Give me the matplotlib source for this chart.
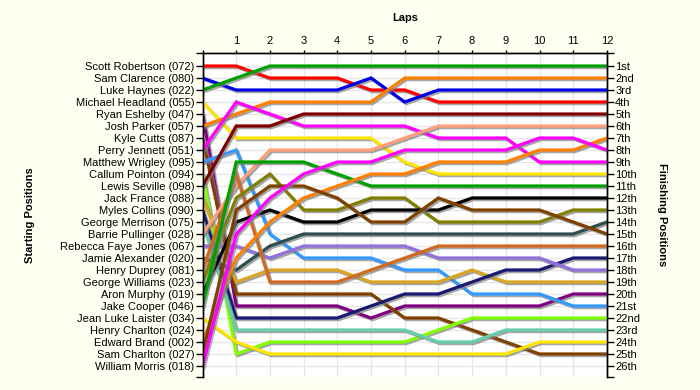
import matplotlib
matplotlib.use("Agg")
import matplotlib.pyplot as plt
import matplotlib.patheffects as pe

plt.rcParams['font.family'] = ['Liberation Sans', 'DejaVu Sans']

laps = list(range(13))
lap_labels = [''] + [str(i) for i in range(1, 13)]

drivers = [
    "Scott Robertson (072)", "Sam Clarence (080)", "Luke Haynes (022)",
    "Michael Headland (055)", "Ryan Eshelby (047)", "Josh Parker (057)",
    "Kyle Cutts (087)", "Perry Jennett (051)", "Matthew Wrigley (095)",
    "Callum Pointon (094)", "Lewis Seville (098)", "Jack France (088)",
    "Myles Collins (090)", "George Merrison (075)", "Barrie Pullinger (028)",
    "Rebecca Faye Jones (067)", "Jamie Alexander (020)", "Henry Duprey (081)",
    "George Williams (023)", "Aron Murphy (019)", "Jake Cooper (046)",
    "Jean Luke Laister (034)", "Henry Charlton (024)", "Edward Brand (002)",
    "Sam Charlton (027)", "William Morris (018)",
]

finish_labels = ["1st", "2nd", "3rd"] + [f"{i}th" for i in range(4, 21)] + \
    ["21st", "22nd", "23rd", "24th", "25th", "26th"]

# position per lap (lap 0 = start), None = no data
positions = {
    "Scott Robertson (072)":   [1, 1, 2, 2, 2, 3, 3, 4, 4, 4, 4, 4, 4],
    "Sam Clarence (080)":      [2, 3, 3, 3, 3, 2, 4, 3, 3, 3, 3, 3, 3],
    "Luke Haynes (022)":       [3, 2, 1, 1, 1, 1, 1, 1, 1, 1, 1, 1, 1],
    "Michael Headland (055)":  [4, 7, 7, 7, 7, 7, 9, 10, 10, 10, 10, 10, 10],
    "Ryan Eshelby (047)":      [5, 21, 21, 21, 21, 22, 21, 21, 21, 21, 21, 20, 20],
    "Josh Parker (057)":       [6, 5, 4, 4, 4, 4, 2, 2, 2, 2, 2, 2, 2],
    "Kyle Cutts (087)":        [7, 20, 20, 20, 20, 20, 22, 22, 23, 24, 25, 25, 25],
    "Perry Jennett (051)":     [8, 4, 5, 6, 6, 6, 6, 7, 7, 7, 9, 9, 9],
    "Matthew Wrigley (095)":   [9, 8, 15, 17, 17, 17, 18, 18, 20, 20, 20, 21, 21],
    "Callum Pointon (094)":    [10, 25, 24, 24, 24, 24, 24, 23, 22, 22, 22, 22, 22],
    "Lewis Seville (098)":     [11, 6, 6, 5, 5, 5, 5, 5, 5, 5, 5, 5, 5],
    "Jack France (088)":       [12, 19, 18, 18, 18, 19, 19, 19, 18, 19, 19, 19, 19],
    "Myles Collins (090)":     [13, 22, 22, 22, 22, 21, 20, 20, 19, 18, 18, 17, 17],
    "George Merrison (075)":   [14, 23, 23, 23, 23, 23, 23, 24, 24, 23, 23, 23, 23],
    "Barrie Pullinger (028)":  [15, 11, 8, 8, 8, 8, 7, 6, 6, 6, 6, 6, 6],
    "Rebecca Faye Jones (067)": [16, 16, 17, 16, 16, 16, 16, 17, 17, 17, 17, 18, 18],
    "Jamie Alexander (020)":   [17, 18, 16, 15, 15, 15, 15, 15, 15, 15, 15, 15, 14],
    "Henry Duprey (081)":      [18, 10, 19, 19, 19, 18, 17, 16, 16, 16, 16, 16, 16],
    "George Williams (023)":   [19, 12, 10, 13, 13, 12, 12, 14, 14, 14, 14, 13, 13],
    "Aron Murphy (019)":       [20, 14, 13, 14, 14, 13, 13, 13, 12, 12, 12, 12, 12],
    "Jake Cooper (046)":       [21, 9, 9, 9, 10, 11, 11, 11, 11, 11, 11, 11, 11],
    "Jean Luke Laister (034)": [22, 24, 25, 25, 25, 25, 25, 25, 25, 25, 24, 24, 24],
    "Henry Charlton (024)":    None,
    "Edward Brand (002)":      [24, 17, 14, 12, 11, 10, 10, 9, 9, 9, 8, 8, 7],
    "Sam Charlton (027)":      [25, 13, 11, 11, 12, 14, 14, 12, 13, 13, 13, 14, 15],
    "William Morris (018)":    [26, 15, 12, 10, 9, 9, 8, 8, 8, 8, 7, 7, 8],
}

colors = {
    "Scott Robertson (072)": "#ff0000",
    "Sam Clarence (080)": "#0000e6",
    "Luke Haynes (022)": "#00a000",
    "Michael Headland (055)": "#ffe600",
    "Ryan Eshelby (047)": "#800080",
    "Josh Parker (057)": "#ff8000",
    "Kyle Cutts (087)": "#804000",
    "Perry Jennett (051)": "#ff00ff",
    "Matthew Wrigley (095)": "#3399ff",
    "Callum Pointon (094)": "#80ff00",
    "Lewis Seville (098)": "#800000",
    "Jack France (088)": "#daa520",
    "Myles Collins (090)": "#191970",
    "George Merrison (075)": "#66cdaa",
    "Barrie Pullinger (028)": "#ffa07a",
    "Rebecca Faye Jones (067)": "#9370db",
    "Jamie Alexander (020)": "#2f4f4f",
    "Henry Duprey (081)": "#d2691e",
    "George Williams (023)": "#808000",
    "Aron Murphy (019)": "#000000",
    "Jake Cooper (046)": "#00a000",
    "Jean Luke Laister (034)": "#ffe600",
    "Edward Brand (002)": "#ff8000",
    "Sam Charlton (027)": "#804000",
    "William Morris (018)": "#ff00ff",
}

fig = plt.figure(figsize=(7, 3.9), dpi=100, facecolor="#fffff2")
ax = fig.add_axes([0.2893, 0.0333, 0.5777, 0.8316])
ax.set_facecolor("white")

shadow = [pe.SimpleLineShadow(offset=(1.2, -1.2), shadow_color="#808080", alpha=0.7),
          pe.Normal()]

for name in drivers:
    pos = positions[name]
    if pos is None:
        continue
    ax.plot(laps, pos, color=colors[name], lw=2.3, solid_joinstyle="miter",
            path_effects=shadow, zorder=3)

ax.set_xlim(0, 12)
ax.set_ylim(26.92, -0.11)

# grid
for x in laps:
    ax.axvline(x, color="#e6e6e6", lw=0.9, zorder=1)
for y in range(1, 27):
    ax.axhline(y, color="#e6e6e6", lw=0.9, zorder=1)

ax.xaxis.set_ticks_position("top")
ax.set_xticks(laps)
ax.set_xticklabels(lap_labels, fontsize=8)
ax.tick_params(axis="x", length=2.5, width=1, pad=2)

ax.set_yticks(range(1, 27))
ax.set_yticklabels(drivers, fontsize=8)
ax.set_yticks([-0.11, 26.92], minor=True)
ax.tick_params(axis="y", which="both", length=5, width=1, pad=1,
               left=True, right=True, labelright=False)

ax2 = ax.twinx()
ax2.set_ylim(ax.get_ylim())
ax2.set_yticks(range(1, 27))
ax2.set_yticklabels(finish_labels, fontsize=8)
ax2.set_yticks([-0.11, 26.92], minor=True)
ax2.tick_params(axis="y", which="both", length=5, width=1, pad=1)

for a in (ax, ax2):
    a.spines["bottom"].set_visible(False)
    for s in ("top", "left", "right"):
        a.spines[s].set_linewidth(1)

fig.text(405 / 700, 1 - 18 / 390, "Laps", ha="center", va="center",
         fontsize=8, fontweight="bold")
fig.text(30 / 700, 1 - 215 / 390, "Starting Positions", ha="center",
         va="center", rotation=90, fontsize=8, fontweight="bold")
fig.text(662 / 700, 1 - 215 / 390, "Finishing Positions", ha="center",
         va="center", rotation=270, fontsize=8, fontweight="bold")

fig.savefig("out.png", dpi=100, facecolor=fig.get_facecolor())
